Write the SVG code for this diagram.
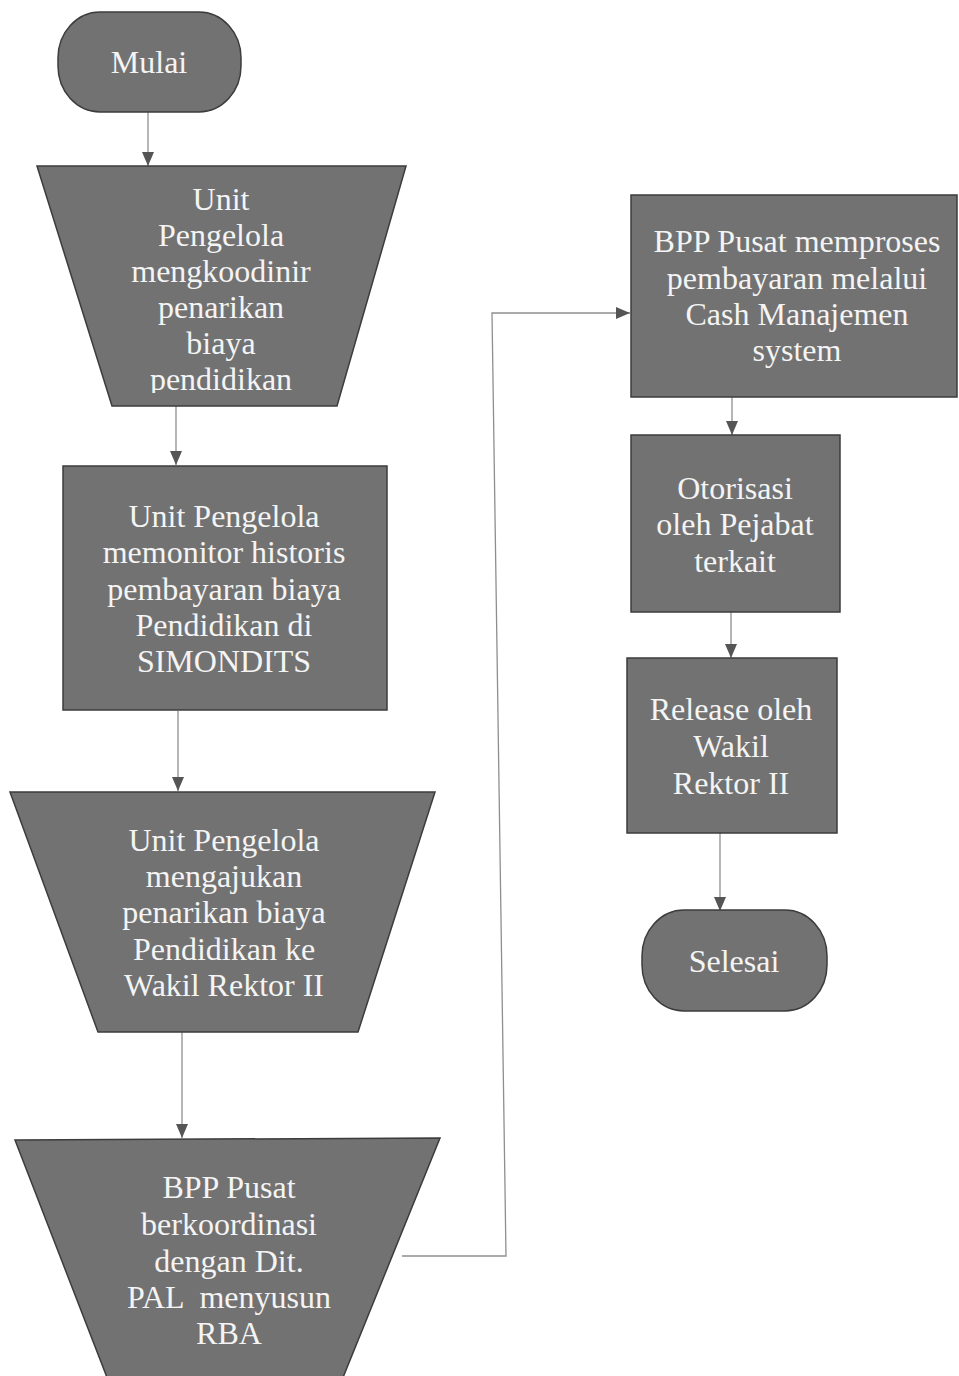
<svg xmlns="http://www.w3.org/2000/svg" width="959" height="1376" viewBox="0 0 959 1376">
<style>
.shape{fill:#727272;stroke:#3c3c3c;stroke-width:1.5}
.lbl{font-family:"Liberation Serif","Times New Roman",serif;font-size:32px;fill:#f4f4f4;text-anchor:middle}
.conn{fill:none;stroke:#8e8e8e;stroke-width:1.3}
</style>
<defs>
<marker id="arr" viewBox="0 0 14 12" refX="14" refY="6" markerWidth="14" markerHeight="12" markerUnits="userSpaceOnUse" orient="auto">
<path d="M0,0 L14,6 L0,12 Z" fill="#555"/>
</marker>
<clipPath id="clip1"><rect x="0" y="166" width="959" height="227"/></clipPath>
</defs>
<rect width="959" height="1376" fill="#ffffff"/>
<g id="connectors">
<line class="conn" x1="148" y1="112" x2="148" y2="166" marker-end="url(#arr)"/>
<line class="conn" x1="176" y1="406" x2="176" y2="465" marker-end="url(#arr)"/>
<line class="conn" x1="178" y1="711" x2="178" y2="791" marker-end="url(#arr)"/>
<line class="conn" x1="182" y1="1032" x2="182" y2="1138" marker-end="url(#arr)"/>
<polyline class="conn" points="402,1256 506,1256 492,313 630,313" marker-end="url(#arr)"/>
<line class="conn" x1="732" y1="397" x2="732" y2="435" marker-end="url(#arr)"/>
<line class="conn" x1="731" y1="612" x2="731" y2="658" marker-end="url(#arr)"/>
<line class="conn" x1="720" y1="833" x2="720" y2="911" marker-end="url(#arr)"/>
</g>
<g id="mulai">
<rect class="shape" x="58" y="12" width="183" height="100" rx="42" ry="46"/>
<text class="lbl" x="149" y="73">Mulai</text>
</g>
<g id="unit-koordinir">
<polygon class="shape" points="37,166 406,166 337,406 112,406"/>
<text class="lbl" x="221" clip-path="url(#clip1)"><tspan x="221" y="210">Unit</tspan><tspan x="221" y="246">Pengelola</tspan><tspan x="221" y="282">mengkoodinir</tspan><tspan x="221" y="318">penarikan</tspan><tspan x="221" y="354">biaya</tspan><tspan x="221" y="390">pendidikan</tspan></text>
</g>
<g id="unit-monitor">
<rect class="shape" x="63" y="466" width="324" height="244"/>
<text class="lbl"><tspan x="224" y="527">Unit Pengelola</tspan><tspan x="224" y="563">memonitor historis</tspan><tspan x="224" y="600">pembayaran biaya</tspan><tspan x="224" y="636">Pendidikan di</tspan><tspan x="224" y="672">SIMONDITS</tspan></text>
</g>
<g id="unit-ajukan">
<polygon class="shape" points="10,792 435,792 358,1032 98,1032"/>
<text class="lbl"><tspan x="224" y="851">Unit Pengelola</tspan><tspan x="224" y="887">mengajukan</tspan><tspan x="224" y="923">penarikan biaya</tspan><tspan x="224" y="960">Pendidikan ke</tspan><tspan x="224" y="996">Wakil Rektor II</tspan></text>
</g>
<g id="bpp-rba">
<polygon class="shape" points="15,1140 440,1138 342,1380 108,1380"/>
<text class="lbl" xml:space="preserve"><tspan x="229" y="1198">BPP Pusat</tspan><tspan x="229" y="1235">berkoordinasi</tspan><tspan x="229" y="1272">dengan Dit.</tspan><tspan x="229" y="1308">PAL  menyusun</tspan><tspan x="229" y="1344">RBA</tspan></text>
</g>
<g id="bpp-proses">
<rect class="shape" x="631" y="195" width="326" height="202"/>
<text class="lbl"><tspan x="797" y="252">BPP Pusat memproses</tspan><tspan x="797" y="289">pembayaran melalui</tspan><tspan x="797" y="325">Cash Manajemen</tspan><tspan x="797" y="361">system</tspan></text>
</g>
<g id="otorisasi">
<rect class="shape" x="631" y="435" width="209" height="177"/>
<text class="lbl"><tspan x="735" y="499">Otorisasi</tspan><tspan x="735" y="535">oleh Pejabat</tspan><tspan x="735" y="572">terkait</tspan></text>
</g>
<g id="release">
<rect class="shape" x="627" y="658" width="210" height="175"/>
<text class="lbl"><tspan x="731" y="720">Release oleh</tspan><tspan x="731" y="757">Wakil</tspan><tspan x="731" y="794">Rektor II</tspan></text>
</g>
<g id="selesai">
<rect class="shape" x="642" y="910" width="185" height="101" rx="42" ry="46"/>
<text class="lbl" x="734" y="972">Selesai</text>
</g>
</svg>
